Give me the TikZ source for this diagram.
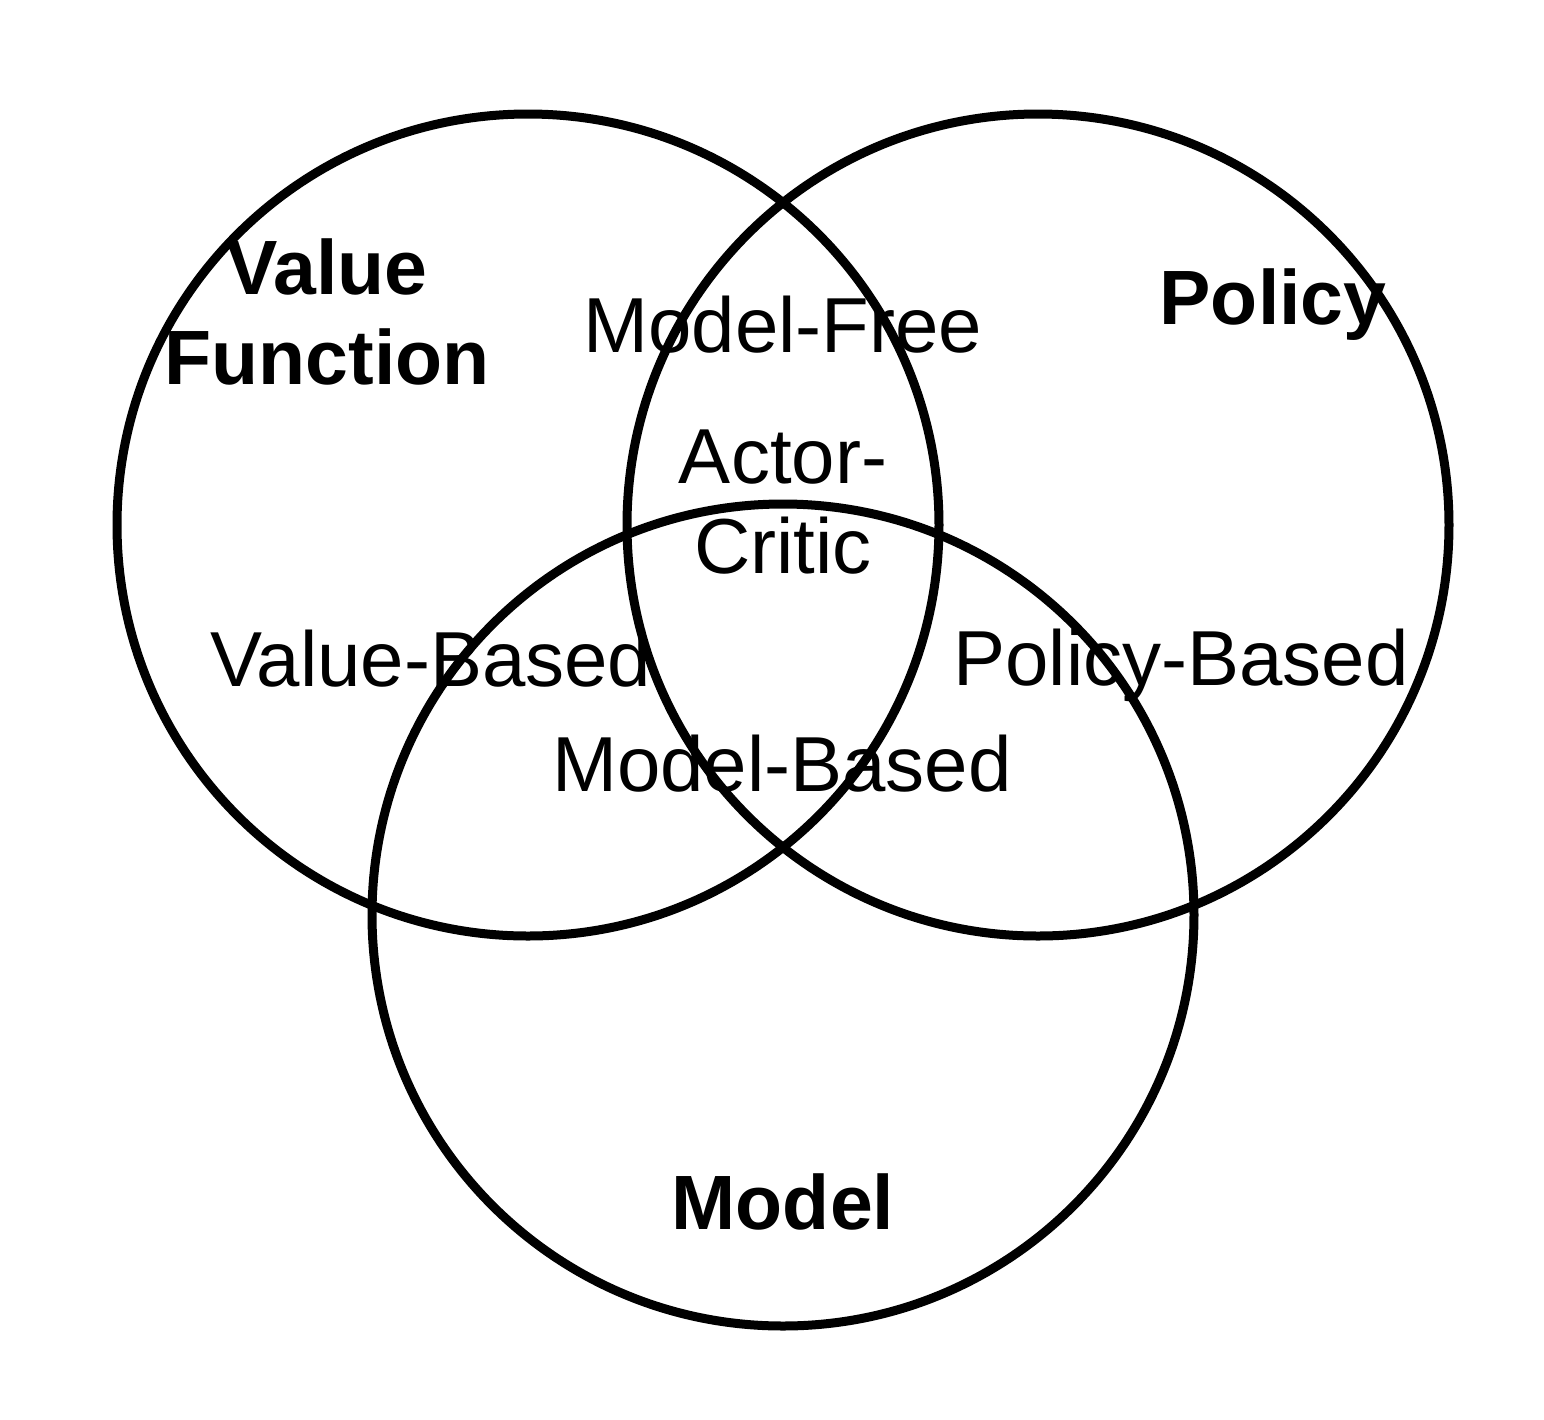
\documentclass[tikz,border=0pt]{standalone}
\usepackage{fontspec}
\setmainfont{Liberation Sans}
\begin{document}
\begin{tikzpicture}[x=0.5pt,y=-0.5pt,
  ring/.style={line width=4.5pt,draw=black},
  lbl/.style={font=\fontsize{39}{45}\selectfont,align=center,inner sep=0pt,anchor=center},
  blbl/.style={lbl,font=\fontsize{38.5}{45}\selectfont\bfseries}]
\useasboundingbox (0,0) rectangle (1544,1420);
\fill[white] (0,0) rectangle (1544,1420);
\coordinate (cv) at (528,525);
\coordinate (cp) at (1038,525);
\coordinate (cm) at (783,915);
\draw[ring] (cv) circle (822/2*0.5pt);
\draw[ring] (cp) circle (822/2*0.5pt);
\draw[ring] (cm) circle (822/2*0.5pt);
\node[blbl] (vf) at (327,312) {Value\\Function};
\node[blbl] (pol) at (1273,305) {Policy};
\node[blbl] (mod) at (783,1202) {Model};
\node[lbl] (mf) at (783,325) {Model-Free};
\node[lbl] (ac) at (783,502) {Actor-\\Critic};
\node[lbl] (vb) at (431,659) {Value-Based};
\node[lbl] (pb) at (1181,665) {Policy-Based};
\node[lbl] (mb) at (782,764) {Model-Based};
\end{tikzpicture}
\end{document}
